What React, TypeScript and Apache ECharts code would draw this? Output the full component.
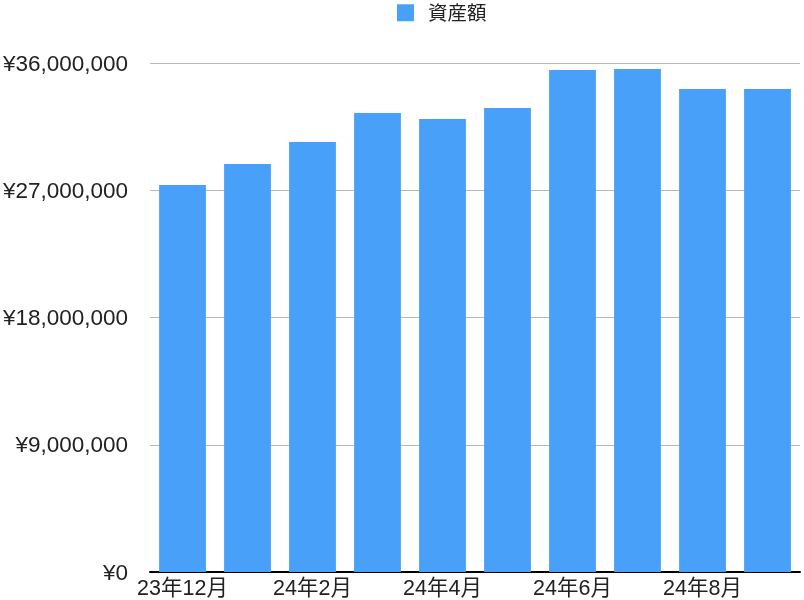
import React, { useEffect, useRef } from "react";
import * as echarts from "echarts";

const categories = [
  "23年12月", "24年1月", "24年2月", "24年3月", "24年4月",
  "24年5月", "24年6月", "24年7月", "24年8月", "24年9月",
];
const assetValues = [
  27370000, 28860000, 30410000, 32460000, 32040000,
  32820000, 35500000, 35580000, 34160000, 34160000,
];
const seriesName = "資産額";
const yMax = 36000000;
const yInterval = 9000000;

const FONT = "'Liberation Sans', 'Noto Sans CJK JP', sans-serif";

export default function App() {
  const ref = useRef<HTMLDivElement>(null);
  useEffect(() => {
    if (!ref.current) return;
    const chart = echarts.init(ref.current, undefined, { renderer: "svg" });
    chart.setOption({
      animation: false,
      textStyle: { fontFamily: FONT },
      legend: {
        data: [seriesName],
        top: -2,
        left: 392,
        itemWidth: 17,
        itemHeight: 17,
        icon: "rect",
        textStyle: {
          fontSize: 19.5,
          color: "#222",
          fontFamily: FONT,
          padding: [0, 0, 0, 9],
        },
      },
      grid: {
        left: 150,
        right: 4,
        top: 63,
        bottom: 28,
        containLabel: false,
        outerBoundsMode: "none",
      },
      xAxis: {
        type: "category",
        data: categories,
        axisLine: { show: true, lineStyle: { color: "#000", width: 2 } },
        axisTick: { show: false },
        axisLabel: {
          interval: 1,
          fontSize: 21.5,
          color: "#222",
          margin: 5,
          fontFamily: FONT,
        },
      },
      yAxis: {
        type: "value",
        min: 0,
        max: yMax,
        interval: yInterval,
        axisLine: { show: false },
        axisTick: { show: false },
        splitLine: { lineStyle: { color: "#b8b8b8", width: 1 } },
        axisLabel: {
          fontSize: 22.5,
          color: "#222",
          margin: 22,
          fontFamily: FONT,
          formatter: (v: number) => "¥" + v.toLocaleString("en-US"),
        },
      },
      series: [
        {
          name: seriesName,
          type: "bar",
          data: assetValues,
          barCategoryGap: "28%",
          itemStyle: { color: "#48a0f8" },
        },
      ],
    });
    return () => chart.dispose();
  }, []);
  return (
    <div
      ref={ref}
      style={{ position: "fixed", left: 0, top: 0, width: 804, height: 600 }}
    />
  );
}
